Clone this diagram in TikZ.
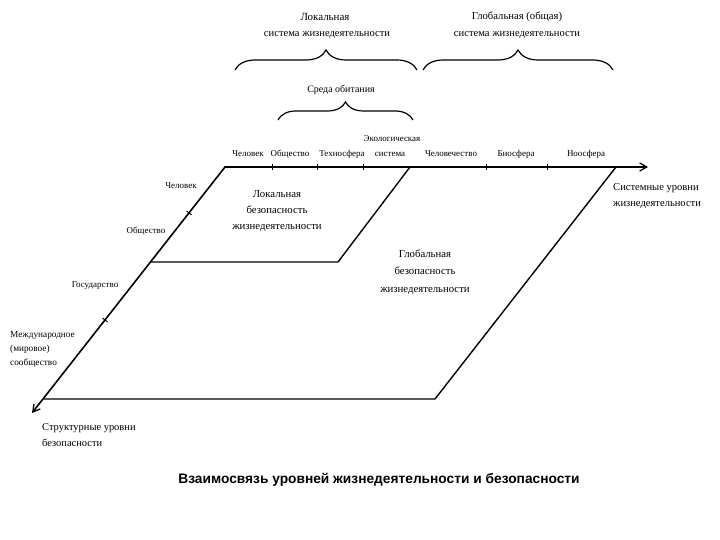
\documentclass[tikz,border=0pt]{standalone}
\usepackage{fontspec}
\setmainfont{Liberation Serif}
\newfontfamily\titlefont{Liberation Sans}
\usetikzlibrary{decorations.pathreplacing,arrows.meta}
\begin{document}
\begin{tikzpicture}[x=1bp,y=-1bp,
  axisline/.style={line width=1.6bp,line cap=round,line join=round},
  axisarrow/.style={axisline,-{Straight Barb[length=7bp,width=8bp,line width=1.3bp]}},
  frameline/.style={line width=1.4bp,line join=round},
  bracestyle/.style={line width=1.2bp,decorate,decoration={brace,amplitude=#1,aspect=0.5}},
  lbl/.style={font=\fontsize{9}{10}\selectfont,inner sep=0pt},
  lblL/.style={lbl,anchor=west,align=left},
  lblC/.style={lbl,align=center},
  tick/.style={line width=1bp}]
\useasboundingbox (0,0) rectangle (720,540);
% coordinates
\coordinate (O) at (225,167);
\coordinate (Xend) at (648,167);
\coordinate (Yend) at (32,413);
\coordinate (L1) at (150.5,262);
\coordinate (L2) at (338,262);
\coordinate (L3) at (410,167);
\coordinate (G1) at (43,399);
\coordinate (G2) at (435,399);
\coordinate (G3) at (616,167);
% axes
\draw[axisarrow] (O) -- (Xend);
\draw[axisarrow] (O) -- (Yend);
% frames
\draw[frameline] (L1) -- (L2) -- (L3);
\draw[frameline] (G1) -- (G2) -- (G3);
% ticks on top axis
\foreach \n/\x in {ta/272,tb/317,tc/363,td/486,te/547}{
  \coordinate (\n1) at (\x,164);
  \coordinate (\n2) at (\x,170);
  \draw[tick] (\n1) -- (\n2);
}
% ticks on left axis
\foreach \n/\x/\y in {la/189/213,lb/105/320}{
  \coordinate (\n1) at ([shift={(-2.4,-1.9)}]\x,\y);
  \coordinate (\n2) at ([shift={(2.4,1.9)}]\x,\y);
  \draw[tick] (\n1) -- (\n2);
}
% braces
\coordinate (B1a) at (235,70); \coordinate (B1b) at (417,70);
\coordinate (B2a) at (423,70); \coordinate (B2b) at (613,70);
\coordinate (B3a) at (278,120); \coordinate (B3b) at (413,120);
\draw[bracestyle=20bp] (B1a) -- (B1b);
\draw[bracestyle=20bp] (B2a) -- (B2b);
\draw[bracestyle=18bp] (B3a) -- (B3b);
% top texts
\node[lblC,font=\fontsize{11}{12}\selectfont] (loc) at (325,17) {Локальная};
\node[lblC,font=\fontsize{10.6}{12}\selectfont] (locs) at (327,35) {система жизнедеятельности};
\node[lblC,font=\fontsize{10.7}{12}\selectfont] (glob) at (517,17) {Глобальная (общая)};
\node[lblC,font=\fontsize{10.6}{12}\selectfont] (globs) at (517,35) {система жизнедеятельности};
\node[lblC,font=\fontsize{10}{12}\selectfont] (sreda) at (341,90) {Среда обитания};
% top axis labels
\node[lblC] (t1) at (248,154) {Человек};
\node[lblC] (t2) at (290,154) {Общество};
\node[lblC] (t3) at (342,154) {Техносфера};
\node[lblC] (t4a) at (392,139) {Экологическая};
\node[lblC] (t4b) at (390,154) {система};
\node[lblC] (t5) at (451,154) {Человечество};
\node[lblC] (t6) at (516,154) {Биосфера};
\node[lblC] (t7) at (586,154) {Ноосфера};
\node[lblL,font=\fontsize{10.6}{16}\selectfont] (sys) at (613,196) {Системные уровни\\жизнедеятельности};
% left axis labels
\node[lblC] (s1) at (181,186) {Человек};
\node[lblC] (s2) at (146,231) {Общество};
\node[lblC] (s3) at (95,286) {Государство};
\node[lblL,font=\fontsize{9.3}{14}\selectfont] (s4) at (10,349) {Международное\\(мировое)\\сообщество};
\node[lblL,font=\fontsize{10.5}{16}\selectfont] (struct) at (42,435) {Структурные уровни\\безопасности};
% inner labels
\node[lblC,font=\fontsize{10.8}{16.5}\selectfont] (lb) at (277,211) {Локальная\\безопасность\\жизнедеятельности};
\node[lblC,font=\fontsize{10.8}{17.5}\selectfont] (gb) at (425,272) {Глобальная\\безопасность\\жизнедеятельности};
% title
\node[inner sep=0pt,font=\titlefont\bfseries\fontsize{13.8}{16}\selectfont] (title) at (379,480) {Взаимосвязь уровней жизнедеятельности и безопасности};
\end{tikzpicture}
\end{document}
